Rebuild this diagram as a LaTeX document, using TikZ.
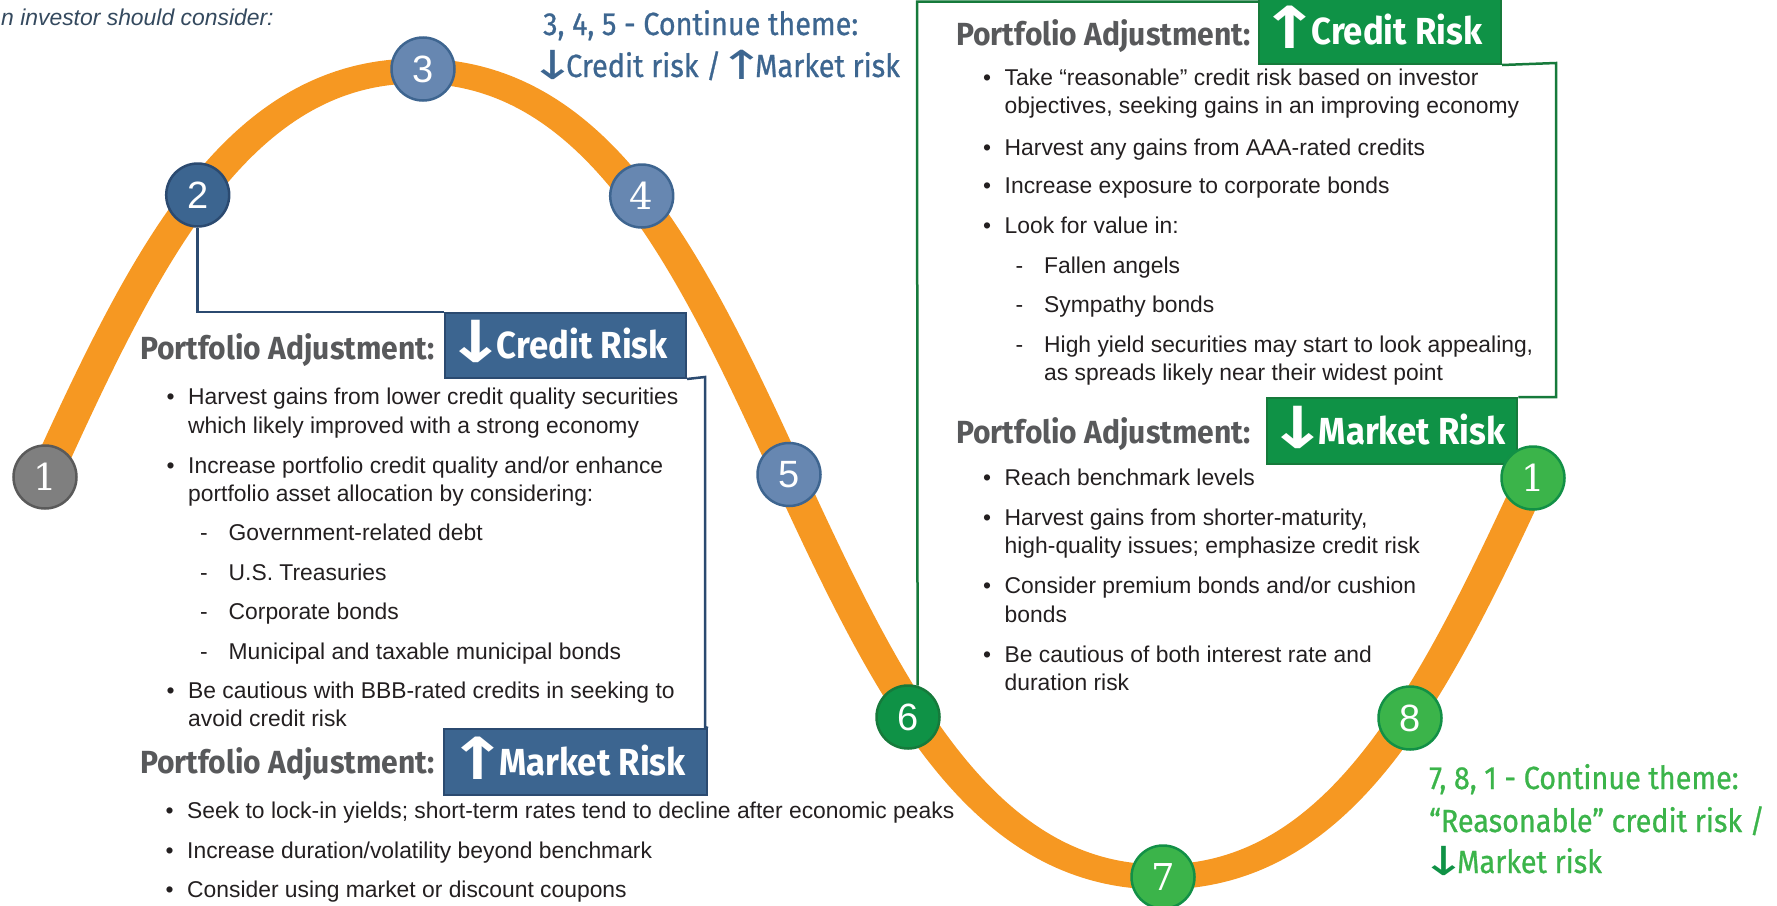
\documentclass[tikz,border=0pt]{standalone}
\usepackage{graphicx}
\usepackage{fontspec}
\setmainfont{Liberation Sans}
\newfontfamily\headfont[FakeStretch=0.94]{Fira Sans}
\newfontfamily\tagfont[FakeStretch=0.92]{Fira Sans}
\newfontfamily\themefont[FakeStretch=0.90,FakeBold=0.8]{Fira Sans}
\newfontfamily\arrowfont{DejaVu Sans}
\newfontfamily\numserif{DejaVu Serif}

\definecolor{bandorange}{HTML}{F69822}
\definecolor{bodytext}{HTML}{231F20}
\definecolor{headgray}{HTML}{58595B}
\definecolor{introblue}{HTML}{34495E}
\definecolor{bluetext}{HTML}{3D6690}
\definecolor{bluefill}{HTML}{3C6590}
\definecolor{blueedge}{HTML}{2B4A70}
\definecolor{lightblue}{HTML}{6787B1}
\definecolor{lightblueedge}{HTML}{3E6590}
\definecolor{grayfill}{HTML}{7F7F7F}
\definecolor{grayedge}{HTML}{5A5A5A}
\definecolor{greenfill}{HTML}{0F9246}
\definecolor{greenedge}{HTML}{167A3B}
\definecolor{lightgreen}{HTML}{3BB44A}
\definecolor{lightgreenedge}{HTML}{129046}

% list helpers: bullet line, dash line, continuation line
\newcommand\bitem[4]{%
  \node[bul] (#1-b) at ({#2-17.5},#3) {\textbullet};
  \node[body] (#1) at (#2,#3) {#4};}
\newcommand\ditem[4]{%
  \node[bul] (#1-d) at ({#2-24.5},#3) {-};
  \node[body] (#1) at (#2,#3) {#4};}
\newcommand\litem[4]{\node[body] (#1) at (#2,#3) {#4};}
% arrow glyphs: size, drop below baseline, kern after, widening
\newcommand\dn[4]{\raisebox{-#2pt}{\scalebox{#4}[1]{\arrowfont\fontsize{#1}{#1}\selectfont ↓}}\kern#3pt}
\newcommand\up[4]{\raisebox{-#2pt}{\scalebox{#4}[1]{\arrowfont\fontsize{#1}{#1}\selectfont ↑}}\kern#3pt}

\begin{document}
\begin{tikzpicture}[x=1pt,y=-1pt,
  band/.style={draw=bandorange, line width=25pt, line cap=butt},
  stage/.style={circle, minimum size=63pt, inner sep=0pt, line width=2.5pt,
    text=white, font=\fontsize{38}{38}\selectfont},
  serifnum/.style={font=\numserif\fontsize{37}{37}\selectfont},
  body/.style={anchor=base west, inner sep=0pt, text=bodytext,
    font=\fontsize{22.85}{27}\selectfont},
  bul/.style={anchor=base, inner sep=0pt, text=bodytext,
    font=\fontsize{22.85}{27}\selectfont},
  head/.style={anchor=base west, inner sep=0pt, text=headgray,
    font=\headfont\bfseries\fontsize{32}{32}\selectfont},
  tag/.style={anchor=north west, inner sep=0pt, text=white, line width=2pt,
    text height=26pt, text depth=0pt,
    font=\tagfont\bfseries\fontsize{37.7}{38}\selectfont},
  bluetag/.style={tag, fill=bluefill, draw=blueedge},
  greentag/.style={tag, fill=greenfill, draw=greenedge},
  blueline/.style={draw=blueedge, line width=2.5pt},
  greenline/.style={draw=greenedge, line width=2.5pt},
  theme/.style={anchor=base west, inner sep=0pt,
    font=\themefont\fontsize{32}{32}\selectfont},
]
\useasboundingbox (0,0) rectangle (1777,905);

% the cycle curve
\begin{scope}[transform canvas={xscale=1.33}]
\draw[band] ({45/1.33},477)
  .. controls ({145/1.33},257) and ({237/1.33},71) .. ({417/1.33},71)
  .. controls ({597/1.33},71) and ({689/1.33},257) .. ({789/1.33},476)
  .. controls ({889/1.33},693) and ({981/1.33},877) .. ({1161/1.33},877)
  .. controls ({1341/1.33},877) and ({1433/1.33},693) .. ({1533/1.33},477);
\end{scope}

% intro line
\node[anchor=base west, inner sep=0pt, text=introblue,
  font=\itshape\fontsize{22.9}{27}\selectfont] (intro) at (1,25)
  {n investor should consider:};

% theme notes
\node[theme, text=bluetext] (th1a) at (543,35) {3, 4, 5 - Continue theme:};
\node[theme, text=bluetext] (th1b) at (529,77)
  {\dn{40}{2}{-10}{1.4}Credit risk /\kern-3pt\up{40}{2}{-10}{1.4}Market risk};
\node[theme, text=lightgreen] (th2a) at (1429,789) {7, 8, 1 - Continue theme:};
\node[theme, text=lightgreen] (th2b) at (1429,832) {“Reasonable” credit risk /};
\node[theme, text=lightgreen] (th2c) at (1420,873)
  {\textcolor{greenfill}{\dn{40}{2}{-10}{1.4}}Market risk};

% left panel: lower credit risk
\node[head] (h1) at (140,359) {Portfolio Adjustment:};
\node[bluetag, minimum width=241pt, minimum height=65pt] (tg1) at (444,312)
  {\dn{58}{4}{-9}{1.25}Credit Risk\kern18pt};
\bitem{a1}{188}{404}{Harvest gains from lower credit quality securities}
\litem{a2}{188}{433}{which likely improved with a strong economy}
\bitem{a3}{188}{473}{Increase portfolio credit quality and/or enhance}
\litem{a4}{188}{501}{portfolio asset allocation by considering:}
\ditem{a5}{228.5}{540}{Government-related debt}
\ditem{a6}{228.5}{580}{U.S. Treasuries}
\ditem{a7}{228.5}{619}{Corporate bonds}
\ditem{a8}{228.5}{659}{Municipal and taxable municipal bonds}
\bitem{a9}{188}{698}{Be cautious with BBB-rated credits in seeking to}
\litem{a10}{188}{726}{avoid credit risk}

% left panel: higher market risk
\node[head] (h2) at (140,773) {Portfolio Adjustment:};
\node[bluetag, minimum width=263pt, minimum height=66pt] (tg2) at (443,728)
  {\up{58}{4}{-9}{1.25}Market Risk\kern18pt};
\bitem{b1}{187}{818}{Seek to lock-in yields; short-term rates tend to decline after economic peaks}
\bitem{b2}{187}{858}{Increase duration/volatility beyond benchmark}
\bitem{b3}{187}{897}{Consider using market or discount coupons}

% right panel: higher credit risk
\node[head] (h3) at (956,45) {Portfolio Adjustment:};
\node[greentag, minimum width=242pt, minimum height=66pt] (tg3) at (1258,-3)
  {\up{58}{4}{-9}{1.25}Credit Risk\kern18pt};
\bitem{c1}{1004.5}{85}{Take “reasonable” credit risk based on investor}
\litem{c2}{1004.5}{113}{objectives, seeking gains in an improving economy}
\bitem{c3}{1004.5}{155}{Harvest any gains from AAA-rated credits}
\bitem{c4}{1004.5}{193}{Increase exposure to corporate bonds}
\bitem{c5}{1004.5}{233}{Look for value in:}
\ditem{c6}{1044}{273}{Fallen angels}
\ditem{c7}{1044}{312}{Sympathy bonds}
\ditem{c8}{1044}{352}{High yield securities may start to look appealing,}
\litem{c9}{1044}{380}{as spreads likely near their widest point}

% right panel: lower market risk
\node[head] (h4) at (956,443) {Portfolio Adjustment:};
\node[greentag, minimum width=242pt, minimum height=66pt] (tg4) at (1266,397)
  {\dn{58}{4}{-9}{1.25}Market Risk\kern12pt};
\bitem{d1}{1004.5}{485}{Reach benchmark levels}
\bitem{d2}{1004.5}{525}{Harvest gains from shorter-maturity,}
\litem{d3}{1004.5}{553}{high-quality issues; emphasize credit risk}
\bitem{d4}{1004.5}{593}{Consider premium bonds and/or cushion}
\litem{d5}{1004.5}{622}{bonds}
\bitem{d6}{1004.5}{662}{Be cautious of both interest rate and}
\litem{d7}{1004.5}{690}{duration risk}

% stages along the curve
\node[stage, fill=grayfill, draw=grayedge, serifnum] (s1) at (45,477) {1};
\node[stage, fill=bluefill, draw=blueedge] (s2) at (197.7,195) {2};
\node[stage, fill=lightblue, draw=lightblueedge] (s3) at (423,69) {3};
\node[stage, fill=lightblue, draw=lightblueedge, serifnum] (s4) at (641.7,196) {4};
\node[stage, fill=lightblue, draw=lightblueedge] (s5) at (789,474.5) {5};
\node[stage, fill=greenfill, draw=greenedge] (s6) at (908,717) {6};
\node[stage, fill=lightgreen, draw=lightgreenedge, serifnum] (s7) at (1163,877) {7};
\node[stage, fill=lightgreen, draw=lightgreenedge] (s8) at (1410,718) {8};
\node[stage, fill=lightgreen, draw=lightgreenedge, serifnum] (s9) at (1533,478) {1};

% panel outlines
\coordinate (bc1) at (705,377);
\coordinate (bc2) at (705,727);
\draw[blueline] (s2.south) |- (tg1.north west);
\draw[blueline] (tg1.south east) -- (bc1) -- (bc2) -- (tg2.north east);
\coordinate (gc0) at (917,1.5);
\coordinate (gc1) at (1556,63);
\coordinate (gc2) at (1556,397);
\draw[greenline] (s6.73) -- (gc0) -- (tg3.west |- gc0);
\draw[greenline] (tg3.south east) -- (gc1) -- (gc2) -- (tg4.north east);
\end{tikzpicture}
\end{document}
